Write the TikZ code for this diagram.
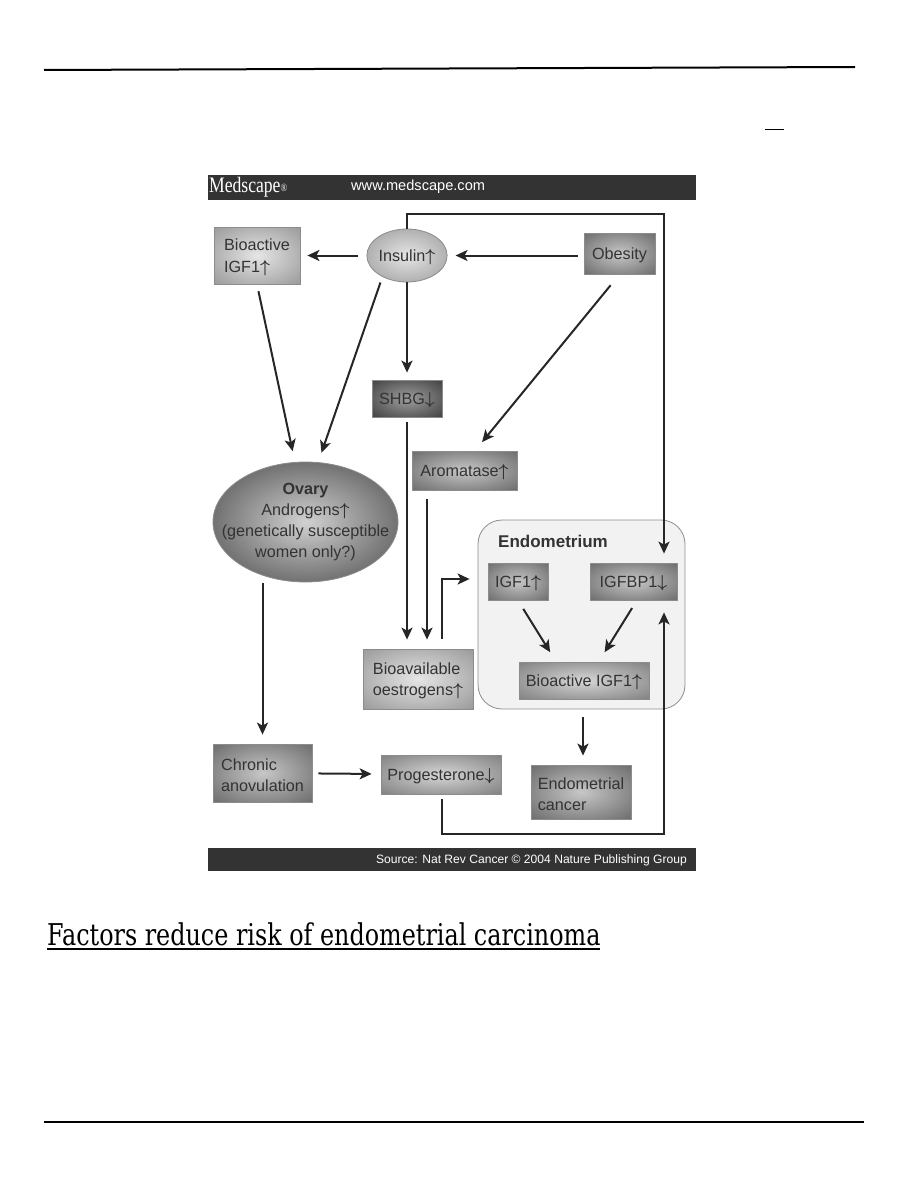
\documentclass[tikz,border=0pt]{standalone}
\usepackage{amsmath,amssymb}
\usepackage{fontspec}
\setmainfont{Liberation Sans}
\newfontfamily\slabfont{DejaVu Serif}
\newfontfamily\logofont{Liberation Serif}
\newcommand{\ua}{\ensuremath{\boldsymbol{\uparrow}}}
\newcommand{\da}{\ensuremath{\boldsymbol{\downarrow}}}
\newcommand{\lw}[1]{\raisebox{-2pt}[\height][\depth]{#1}}
\usepackage{tikz}
\usetikzlibrary{arrows.meta,shapes.geometric}

\pgfdeclareradialshading{shadl}{\pgfpointorigin}{color(0bp)=(black!10); color(36bp)=(black!40); color(50bp)=(black!40)}
\pgfdeclareradialshading{shadm}{\pgfpointorigin}{color(0bp)=(black!16); color(36bp)=(black!50); color(50bp)=(black!50)}
\pgfdeclareradialshading{shadd}{\pgfpointorigin}{color(0bp)=(black!22); color(36bp)=(black!58); color(50bp)=(black!58)}
\pgfdeclareradialshading{shads}{\pgfpointorigin}{color(0bp)=(black!38); color(36bp)=(black!75); color(50bp)=(black!75)}
\pgfdeclareradialshading{shado}{\pgfpointorigin}{color(0bp)=(black!18); color(36bp)=(black!72); color(50bp)=(black!72)}

\begin{document}
\begin{tikzpicture}[x=1pt,y=-1pt,>={Stealth[length=12pt,width=11pt,inset=3pt]},auto]
  \tikzstyle{every node}=[inner sep=0pt,text=black!80]
  \tikzstyle{box}=[rectangle,draw=black!45,line width=.8pt,align=left,font=\fontsize{16.2}{21.5}\selectfont]
  \tikzstyle{boxl}=[box,shading=shadl]
  \tikzstyle{boxm}=[box,shading=shadm]
  \tikzstyle{boxd}=[box,shading=shadd]
  \tikzstyle{bar}=[rectangle,fill=black!80,minimum width=488pt,text=white]
  \tikzstyle{conn}=[->,line width=2pt,draw=black!85]
  \tikzstyle{every edge}=[draw,conn]

  \useasboundingbox (0,0) rectangle (918,1188);

  \coordinate (tl) at (44,70);
  \coordinate (tr) at (855,67);
  \coordinate (ml) at (765,130);
  \coordinate (mr) at (784,130);
  \coordinate (bl) at (44,1122);
  \coordinate (br) at (864,1122);
  \draw[line width=2pt] (tl) -- (tr);
  \draw[line width=1pt] (ml) -- (mr);
  \draw[line width=1.5pt] (bl) -- (br);

  \node[bar,minimum height=25pt] (head) at (452,187.5) {};
  \node[text=white,anchor=west,font=\logofont\fontsize{22}{22}\selectfont] (logo) at (209,187) {\scalebox{.8}[1]{Medscape\raisebox{1pt}{\fontsize{11}{11}\selectfont\textregistered}}};
  \node[text=white,anchor=west,font=\fontsize{14.6}{14.6}\selectfont] (www) at (351,187) {www.medscape.com};
  \node[bar,minimum height=23pt] (foot) at (452,859.5) {};
  \node[text=white,anchor=east,font=\fontsize{12.1}{12.1}\selectfont] (src) at (687,860) {Source: Nat Rev Cancer \textcopyright{} 2004 Nature Publishing Group};

  \node[rectangle,draw=black!45,fill=black!5,rounded corners=24pt,line width=.8pt,minimum width=207pt,minimum height=189pt] (endo) at (581.5,614.5) {};
  \node[anchor=west,font=\bfseries\fontsize{17}{17}\selectfont] (endot) at (498,541) {Endometrium};

  \node[boxl,minimum width=86pt,minimum height=57pt] (big) at (257,255.5) {\lw{Bioactive}\\\lw{IGF1\ua}};
  \node[boxl,ellipse,minimum width=76pt,minimum height=53pt] (ins) at (407,255.5) {\lw{Insulin\ua}};
  \node[boxd,minimum width=71pt,minimum height=41pt] (obe) at (619.5,253.5) {\lw{Obesity}};
  \node[box,shading=shads,minimum width=70pt,minimum height=37pt] (shbg) at (407,398.5) {\lw{SHBG\da}};
  \node[boxd,minimum width=105pt,minimum height=39pt] (aro) at (464.5,470.5) {\lw{Aromatase\ua}};
  \node[box,ellipse,shading=shado,minimum width=185pt,minimum height=120pt] (ova) at (305.5,522) {};
  \node[align=center,font=\fontsize{16.2}{21.3}\selectfont] (ovat) at (305.5,522)
       {\textbf{Ovary}\\Androgens\ua\\(genetically susceptible\\women only?)};
  \node[boxd,minimum width=60pt,minimum height=37pt] (igf) at (518,581.5) {\lw{IGF1\ua}};
  \node[boxd,minimum width=87pt,minimum height=37pt] (bp) at (633.5,581.5) {\lw{IGFBP1\da}};
  \node[boxm,minimum width=130pt,minimum height=37pt] (act) at (584,680.5) {\lw{Bioactive IGF1\ua}};
  \node[boxl,minimum width=110pt,minimum height=60pt] (oes) at (418,679) {\lw{Bioavailable}\\\lw{oestrogens\ua}};
  \node[boxd,minimum width=99pt,minimum height=58pt] (chr) at (262.5,773) {\lw{Chronic}\\\lw{anovulation}};
  \node[boxm,minimum width=120pt,minimum height=39pt] (pro) at (441,774.5) {\lw{Progesterone\da}};
  \node[boxd,minimum width=100pt,minimum height=54pt] (can) at (581,792) {\lw{Endometrial}\\\lw{cancer}};

  \node[anchor=base west,text=black,font=\slabfont\fontsize{30}{30}\selectfont] (title) at (47,945)
       {\scalebox{.795}[1]{Factors reduce risk of endometrial carcinoma}};
  \coordinate (ul) at (47,948.5);
  \coordinate (ur) at (600,948.5);
  \draw[line width=2pt] (ul) -- (ur);

  \coordinate (a) at (442,579);
  \coordinate (b) at (407,214);
  \coordinate (c) at (664,214);
  \coordinate (d) at (442,834);
  \coordinate (e) at (664,834);
  \coordinate (f) at (427,0);
  \coordinate (g) at (583,0);

  \path (ins) edge [shorten <=8pt,shorten >=7pt] (big)
        (obe.west |- ins) edge [shorten <=6pt,shorten >=8pt] (ins)
        (big.south) edge [shorten <=7pt,shorten >=11pt] (ova.100)
        (ins.-139) edge [shorten <=6pt,shorten >=10pt] (ova.78)
        (ins.south) edge [shorten >=7pt] (shbg.north)
        (obe.south) edge [shorten <=14pt,shorten >=11pt] (aro.62)
        (shbg.south) edge [shorten <=5pt,shorten >=9pt] (oes.north -| shbg.south)
        (aro.south -| f) edge [shorten <=9pt,shorten >=9pt] (oes.north -| f)
        (igf.south) edge [shorten <=10pt,shorten >=11pt] (act.146)
        (bp.-80) edge [shorten <=9pt,shorten >=11pt] (act.52)
        (act.south -| g) edge [shorten <=18pt,shorten >=9pt] (can.north -| g)
        (ova.south -| chr.north) edge [shorten <=1pt,shorten >=9pt] (chr.north)
        (chr) edge [shorten <=6pt,shorten >=9pt] (pro);

  \draw[conn,shorten <=10pt,shorten >=8pt] (oes.north -| a) -- (a) -- (endo.west |- a);
  \draw[conn,shorten >=9pt] (ins.north) -- (b) -- (c) -- (bp.north -| c);
  \draw[conn,shorten <=5pt,shorten >=12pt] (pro.south -| d) -- (d) -- (e) -- (bp.south -| e);
\end{tikzpicture}
\end{document}
